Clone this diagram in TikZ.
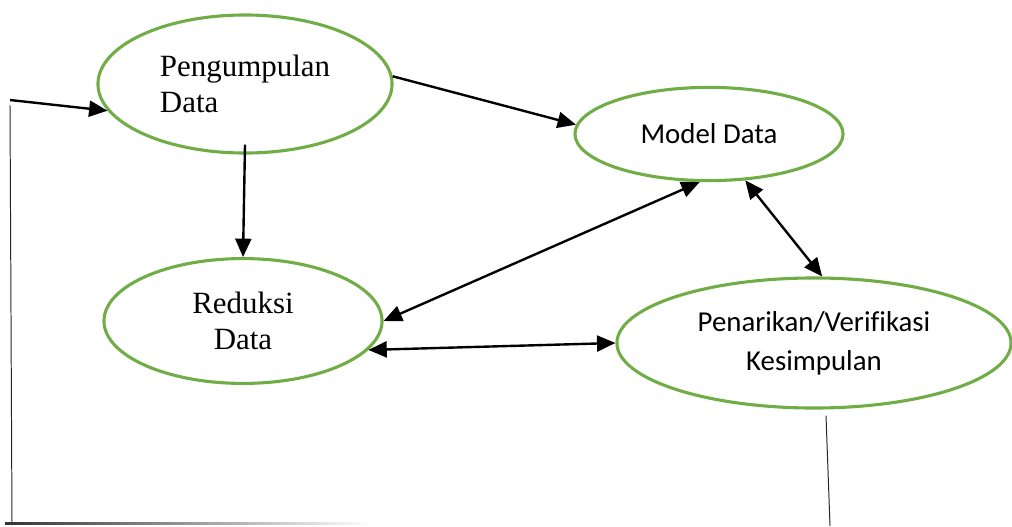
\documentclass[tikz,border=0pt]{standalone}
\usepackage{fontspec}
\setmainfont{Liberation Serif}
\newfontfamily\carlito[Ligatures=NoCommon]{Carlito}
\usetikzlibrary{shapes.geometric,arrows.meta,calc}
\definecolor{elGreen}{RGB}{112,173,71}

\begin{document}
\begin{tikzpicture}[
  x=0.025cm, y=-0.025cm,
  el/.style={ellipse, draw=elGreen, line width=2.2pt, inner sep=0pt},
  serif/.style={font=\fontsize{22}{25.5}\selectfont},
  sans/.style={font=\carlito\fontsize{20.5}{27.6}\selectfont, align=center},
  arr/.style={-{Triangle[length=4.6mm, width=4mm]}, line width=1.7pt},
  darr/.style={{Triangle[length=4.6mm, width=4mm]}-{Triangle[length=4.6mm, width=4mm]}, line width=1.7pt},
  fline/.style={line width=0.7pt, black!85},
]
\useasboundingbox (0,0) rectangle (1012,526);
% ellipses
\node[el, serif, align=left, minimum width=7.35cm, minimum height=3.45cm] (pd) at (245,84) {Pengumpulan\\Data};
\node[el, sans, minimum width=6.7cm, minimum height=2.33cm] (md) at (709,134) {Model Data};
\node[el, serif, align=center, minimum width=6.95cm, minimum height=3.12cm] (rd) at (243,321) {Reduksi\\Data};
\node[el, sans, minimum width=9.85cm, minimum height=3.25cm] (pk) at (814,343) {Penarikan/Verifikasi\\Kesimpulan};
% arrows
\coordinate (lin) at (10,100);
\draw[arr] (lin) -- (pd.191);
\draw[arr] (pd.3) -- (md.176);
\draw[arr] ([yshift=0.25cm]pd.south) -- (rd.north);
\draw[darr] (md.259) -- (rd.east);
\draw[darr] (md.308) -- (pk.83);
\draw[darr] (rd.347) -- (pk.west);
% feedback lines
\coordinate (kb) at (830,526);
\draw[fline] ($(pk.south)+(12,6)$) -- (kb);
\coordinate (lt) at (10,105);
\coordinate (lb) at (12,523);
\draw[fline] (lt) -- (lb);
\shade[left color=black!80, right color=white] (5,522.8) rectangle (372,524.6);
\end{tikzpicture}
\end{document}
